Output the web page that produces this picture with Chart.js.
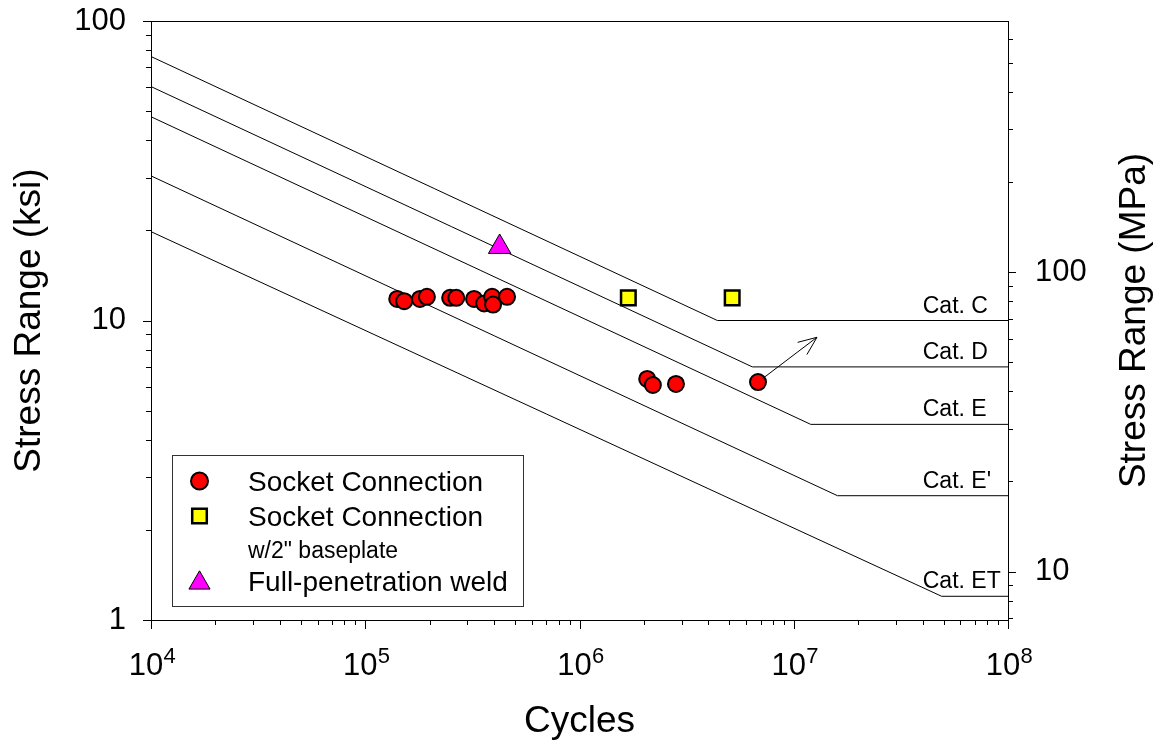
<!DOCTYPE html>
<html>
<head>
<meta charset="utf-8">
<script src="https://cdn.jsdelivr.net/npm/chart.js@4.4.0/dist/chart.umd.min.js"></script>
<style>
html,body{margin:0;padding:0;background:#fff;}
#wrap{width:1159px;height:749px;position:relative;}
</style>
</head>
<body>
<div id="wrap"><canvas id="c"></canvas></div>
<script>
// ---------------- data ----------------
const socketCycles = [1.41e5, 1.52e5, 1.80e5, 1.94e5, 2.49e5, 2.66e5, 3.22e5, 3.59e5, 3.91e5, 3.95e5, 4.59e5, 2.07e6, 2.20e6, 2.82e6, 6.81e6];
const socketStress = [11.8, 11.6, 11.8, 12.0, 11.9, 11.9, 11.8, 11.4, 12.0, 11.3, 12.0, 6.38, 6.09, 6.14, 6.23];
const baseplateCycles = [1.69e6, 5.16e6];
const baseplateStress = [11.9, 11.9];
const weldCycles = [4.24e5];
const weldStress = [17.6];

const categoryNames = ['Cat. C', 'Cat. D', 'Cat. E', "Cat. E'", 'Cat. ET'];
const categoryStressAtStart = [76.1, 60.4, 47.9, 30.4, 19.8];
const categoryKneeCycles = [4.4e6, 6.41e6, 1.2e7, 1.6e7, 4.9e7];
const categoryThreshold = [10, 7.0, 4.5, 2.6, 1.2];

const runoutFrom = [6.81e6, 6.23];
const runoutTo = [1.284e7, 8.79];

const cycleDecades = [4, 5, 6, 7, 8];
const ksiLabels = ['1', '10', '100'];
const mpaLabels = ['10', '100'];
const legendLabels = ['Socket Connection', 'Socket Connection', 'w/2" baseplate', 'Full-penetration weld'];

// ---------------- setup ----------------
const FONT = '"Liberation Sans", Arial, Helvetica, sans-serif';
const KSI_TO_MPA = 6.894757;
const xMin = Math.pow(10, cycleDecades[0]);
const xMax = Math.pow(10, cycleDecades[cycleDecades.length - 1]);
const yMin = Number(ksiLabels[0]);
const yMax = Number(ksiLabels[ksiLabels.length - 1]);

function decadeTicks(lo, hi) {
  const out = [];
  for (let e = Math.floor(Math.log10(lo)); e <= Math.ceil(Math.log10(hi)); e++) {
    for (let m = 1; m <= 9; m++) {
      const v = m * Math.pow(10, e);
      if (v >= lo * 0.9999 && v <= hi * 1.0001) out.push({ value: v, major: m === 1 });
    }
  }
  return out;
}
function isDecade(v) { const l = Math.log10(v); return Math.abs(l - Math.round(l)) < 1e-6; }

const pts = (xs, ys) => xs.map((x, i) => ({ x: x, y: ys[i] }));
const catLine = i => [
  { x: xMin, y: categoryStressAtStart[i] },
  { x: categoryKneeCycles[i], y: categoryThreshold[i] },
  { x: xMax, y: categoryThreshold[i] }
];

const styles = [
  { pointStyle: 'circle', radius: 8, bg: '#ff0000', bw: 2 },
  { pointStyle: 'rect', radius: 10.3, bg: '#ffff00', bw: 2.5 },
  { pointStyle: 'triangle', radius: 13, bg: '#ff00ff', bw: 1 }
];

const datasets = [
  { label: legendLabels[0], data: pts(socketCycles, socketStress) },
  { label: legendLabels[1] + ' ' + legendLabels[2], data: pts(baseplateCycles, baseplateStress) },
  { label: legendLabels[3], data: pts(weldCycles, weldStress) }
].map((d, i) => Object.assign(d, {
  showLine: false,
  pointStyle: styles[i].pointStyle,
  pointRadius: styles[i].radius,
  pointHoverRadius: styles[i].radius,
  pointBackgroundColor: styles[i].bg,
  pointBorderColor: '#000',
  pointBorderWidth: styles[i].bw,
  order: 1
}));
categoryNames.forEach((n, i) => datasets.push({
  label: n, data: catLine(i), showLine: true, pointRadius: 0, pointHoverRadius: 0,
  borderColor: '#000', borderWidth: 1, order: 10
}));

function drawSym(ctx, s, x, y, r) {
  ctx.save();
  ctx.fillStyle = s.bg; ctx.strokeStyle = '#000'; ctx.lineWidth = s.bw;
  Chart.helpers.drawPoint(ctx, { pointStyle: s.pointStyle, radius: r, borderWidth: s.bw, rotation: 0 }, x, y);
  ctx.restore();
}

const decor = {
  id: 'decor',
  afterDatasetsDraw(chart) {
    const { ctx, scales } = chart;
    const x = scales.x, y = scales.y;
    ctx.save();
    // runout arrow
    const x0 = x.getPixelForValue(runoutFrom[0]), y0 = y.getPixelForValue(runoutFrom[1]);
    const x1 = x.getPixelForValue(runoutTo[0]), y1 = y.getPixelForValue(runoutTo[1]);
    const ang = Math.atan2(y1 - y0, x1 - x0);
    const sx = x0 + Math.cos(ang) * 6, sy = y0 + Math.sin(ang) * 6;
    ctx.strokeStyle = '#000'; ctx.lineWidth = 1;
    ctx.beginPath(); ctx.moveTo(sx, sy); ctx.lineTo(x1, y1); ctx.stroke();
    const hl = 20, ha = 22.5 * Math.PI / 180;
    ctx.beginPath();
    ctx.moveTo(x1 - hl * Math.cos(ang - ha), y1 - hl * Math.sin(ang - ha));
    ctx.lineTo(x1, y1);
    ctx.lineTo(x1 - hl * Math.cos(ang + ha), y1 - hl * Math.sin(ang + ha));
    ctx.stroke();
    // category labels
    ctx.fillStyle = '#000';
    ctx.font = '23px ' + FONT;
    ctx.textAlign = 'left'; ctx.textBaseline = 'alphabetic';
    const lx = x.getPixelForValue(4.0e7);
    categoryNames.forEach((n, i) => {
      ctx.fillText(n, lx, y.getPixelForValue(categoryThreshold[i]) - 8);
    });
    ctx.restore();
  },
  afterDraw(chart) {
    const { ctx, chartArea: a, scales } = chart;
    const x = scales.x, y = scales.y, y2 = scales.y2;
    ctx.save();
    ctx.strokeStyle = '#000'; ctx.lineWidth = 1;
    ctx.strokeRect(a.left + 0.5, a.top + 0.5, a.right - a.left, a.bottom - a.top);
    ctx.beginPath();
    x.ticks.forEach(t => {
      const px = Math.round(x.getPixelForValue(t.value)) + 0.5;
      ctx.moveTo(px, a.bottom); ctx.lineTo(px, a.bottom + (t.major ? 9 : 5));
    });
    y.ticks.forEach(t => {
      const py = Math.round(y.getPixelForValue(t.value)) + 0.5;
      ctx.moveTo(a.left, py); ctx.lineTo(a.left - (t.major ? 8 : 5), py);
    });
    y2.ticks.forEach(t => {
      const py = Math.round(y2.getPixelForValue(t.value)) + 0.5;
      ctx.moveTo(a.right, py); ctx.lineTo(a.right + (t.major ? 8 : 5), py);
    });
    ctx.stroke();
    // x tick labels 10^n
    ctx.fillStyle = '#000';
    ctx.textBaseline = 'alphabetic'; ctx.textAlign = 'left';
    cycleDecades.forEach(e => {
      const px = x.getPixelForValue(Math.pow(10, e));
      ctx.font = '31px ' + FONT;
      const w1 = ctx.measureText('10').width;
      ctx.font = '22px ' + FONT;
      const w2 = ctx.measureText(String(e)).width;
      const left = px - (w1 + w2) / 2 + 1;
      ctx.font = '31px ' + FONT;
      ctx.fillText('10', left, 675);
      ctx.font = '22px ' + FONT;
      ctx.fillText(String(e), left + w1 + 0.5, 663);
    });
    // right axis title (reads bottom-to-top)
    ctx.save();
    ctx.translate(1135, (a.top + a.bottom) / 2);
    ctx.rotate(-Math.PI / 2);
    ctx.font = '37px ' + FONT; ctx.textAlign = 'center'; ctx.textBaseline = 'middle';
    ctx.fillText('Stress Range (MPa)', 0, 0);
    ctx.restore();
    // legend
    const bx = 172, by = 455, bw = 351, bh = 151;
    ctx.strokeStyle = '#333'; ctx.lineWidth = 1;
    ctx.strokeRect(bx + 0.5, by + 0.5, bw, bh);
    drawSym(ctx, styles[0], 199.5, 481, 8.5);
    drawSym(ctx, styles[1], 199.5, 516, 10.3);
    drawSym(ctx, styles[2], 199.5, 583, 12.2);
    ctx.fillStyle = '#000'; ctx.textAlign = 'left'; ctx.textBaseline = 'alphabetic';
    ctx.font = '28px ' + FONT;
    ctx.fillText(legendLabels[0], 248, 491);
    ctx.fillText(legendLabels[1], 248, 526);
    ctx.fillText(legendLabels[3], 248, 591);
    ctx.font = '23px ' + FONT;
    ctx.fillText(legendLabels[2], 248, 558);
    ctx.restore();
  }
};

new Chart(document.getElementById('c'), {
  type: 'scatter',
  data: { datasets: datasets },
  options: {
    responsive: true, maintainAspectRatio: false, animation: false, events: [],
    layout: { padding: { top: 21, left: 0, right: 0, bottom: 0 } },
    plugins: { legend: { display: false }, tooltip: { enabled: false } },
    scales: {
      x: {
        type: 'logarithmic', position: 'bottom', min: xMin, max: xMax,
        afterBuildTicks: s => { s.ticks = decadeTicks(xMin, xMax); },
        afterFit: s => { s.height = 129; s.paddingLeft = 0; s.paddingRight = 0; s.paddingTop = 0; s.paddingBottom = 0; },
        grid: { display: false, drawTicks: false },
        border: { display: false },
        ticks: { display: false },
        title: { display: true, text: 'Cycles', color: '#000', font: { family: FONT, size: 37 }, padding: { top: 0, bottom: 5 } }
      },
      y: {
        type: 'logarithmic', position: 'left', min: yMin, max: yMax,
        afterBuildTicks: s => { s.ticks = decadeTicks(yMin, yMax); },
        afterFit: s => { s.width = 151; s.paddingTop = 0; s.paddingBottom = 0; s.paddingLeft = 0; s.paddingRight = 0; },
        grid: { display: false, drawTicks: false },
        border: { display: false },
        ticks: {
          autoSkip: false, padding: 25, color: '#000', font: { family: FONT, size: 31 },
          callback: v => isDecade(v) ? ksiLabels[Math.round(Math.log10(v / yMin))] : ''
        },
        title: { display: true, text: 'Stress Range (ksi)', color: '#000', font: { family: FONT, size: 37 }, padding: { top: 8, bottom: 0 } }
      },
      y2: {
        type: 'logarithmic', position: 'right', min: yMin * KSI_TO_MPA, max: yMax * KSI_TO_MPA,
        afterBuildTicks: s => { s.ticks = decadeTicks(yMin * KSI_TO_MPA, yMax * KSI_TO_MPA); },
        afterFit: s => { s.width = 151; s.paddingTop = 0; s.paddingBottom = 0; s.paddingLeft = 0; s.paddingRight = 0; },
        grid: { display: false, drawTicks: false },
        border: { display: false },
        ticks: {
          autoSkip: false, padding: 27, color: '#000', font: { family: FONT, size: 31 },
          callback: v => isDecade(v) ? mpaLabels[Math.round(Math.log10(v)) - 1] : ''
        }
      }
    }
  },
  plugins: [decor]
});
</script>
</body>
</html>
